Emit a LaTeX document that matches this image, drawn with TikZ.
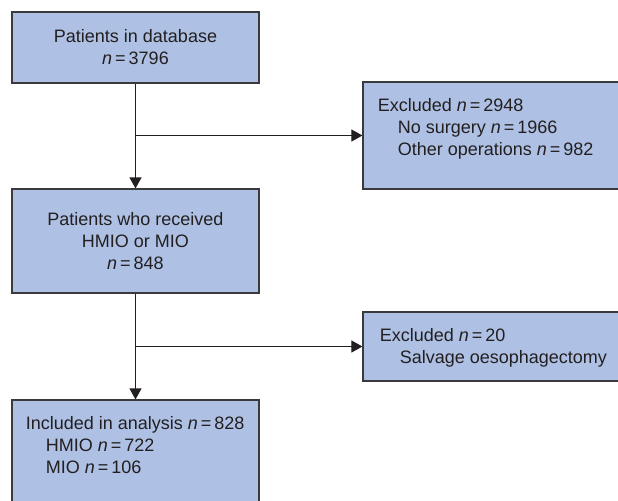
\documentclass[tikz,border=0pt]{standalone}
\usepackage{fontspec}
\setmainfont{Liberation Sans}
\usetikzlibrary{positioning,arrows.meta}
\definecolor{boxfill}{RGB}{174,193,228}
\definecolor{boxline}{RGB}{58,58,60}
\definecolor{ink}{RGB}{35,31,32}
\newcommand{\nval}[1]{\textit{n}\,=\,#1}
\begin{document}
\begin{tikzpicture}[x=0.5pt, y=-0.5pt, font=\fontsize{9}{11}\selectfont, text=ink,
  box/.style={draw=boxline, fill=boxfill, line width=0.6pt, inner sep=0pt, minimum width=#1},
  box/.default=123.5pt,
  txt/.style={align=left, inner sep=0pt},
  flow/.style={draw=ink, line width=0.6pt, -{Triangle[length=5.5pt,width=6pt]}}]

\useasboundingbox (0,0) rectangle (618,500);
\clip (0,0) rectangle (618,500);

% left column
\node[box, minimum height=35.5pt, align=center] (db) at (135.5,47.5)
  {Patients in database\\ \nval{3796}};
\node[box, minimum height=52pt, align=center] (hm) at (135.5,241)
  {Patients who received\\ HMIO or MIO\\ \nval{848}};
\node[box, minimum height=60pt] (inc) at (135.5,460) {};

% right column
\node[box=138.5pt, minimum height=53.5pt] (ex1) at (501.5,135.5) {};
\node[box=138.5pt, minimum height=34.5pt] (ex2) at (501.5,346.5) {};

% texts
\node[txt, below right=8.5pt and 7.5pt of ex1.north west]
  {Excluded \nval{2948}\\ \hspace*{10pt}No surgery \nval{1966}\\ \hspace*{10pt}Other operations \nval{982}};
\node[txt, below right=8.5pt and 8.5pt of ex2.north west]
  {Excluded \nval{20}\\ \hspace*{10pt}Salvage oesophagectomy};
\node[txt, below right=8.5pt and 7pt of inc.north west]
  {Included in analysis \nval{828}\\ \hspace*{10pt}HMIO \nval{722}\\ \hspace*{10pt}MIO \nval{106}};

% arrows
\draw[flow] (db.south) -- (hm.north);
\draw[flow] (db.south |- ex1.west) -- (ex1.west);
\draw[flow] (hm.south) -- (inc.north);
\draw[flow] (hm.south |- ex2.west) -- (ex2.west);

\end{tikzpicture}
\end{document}
